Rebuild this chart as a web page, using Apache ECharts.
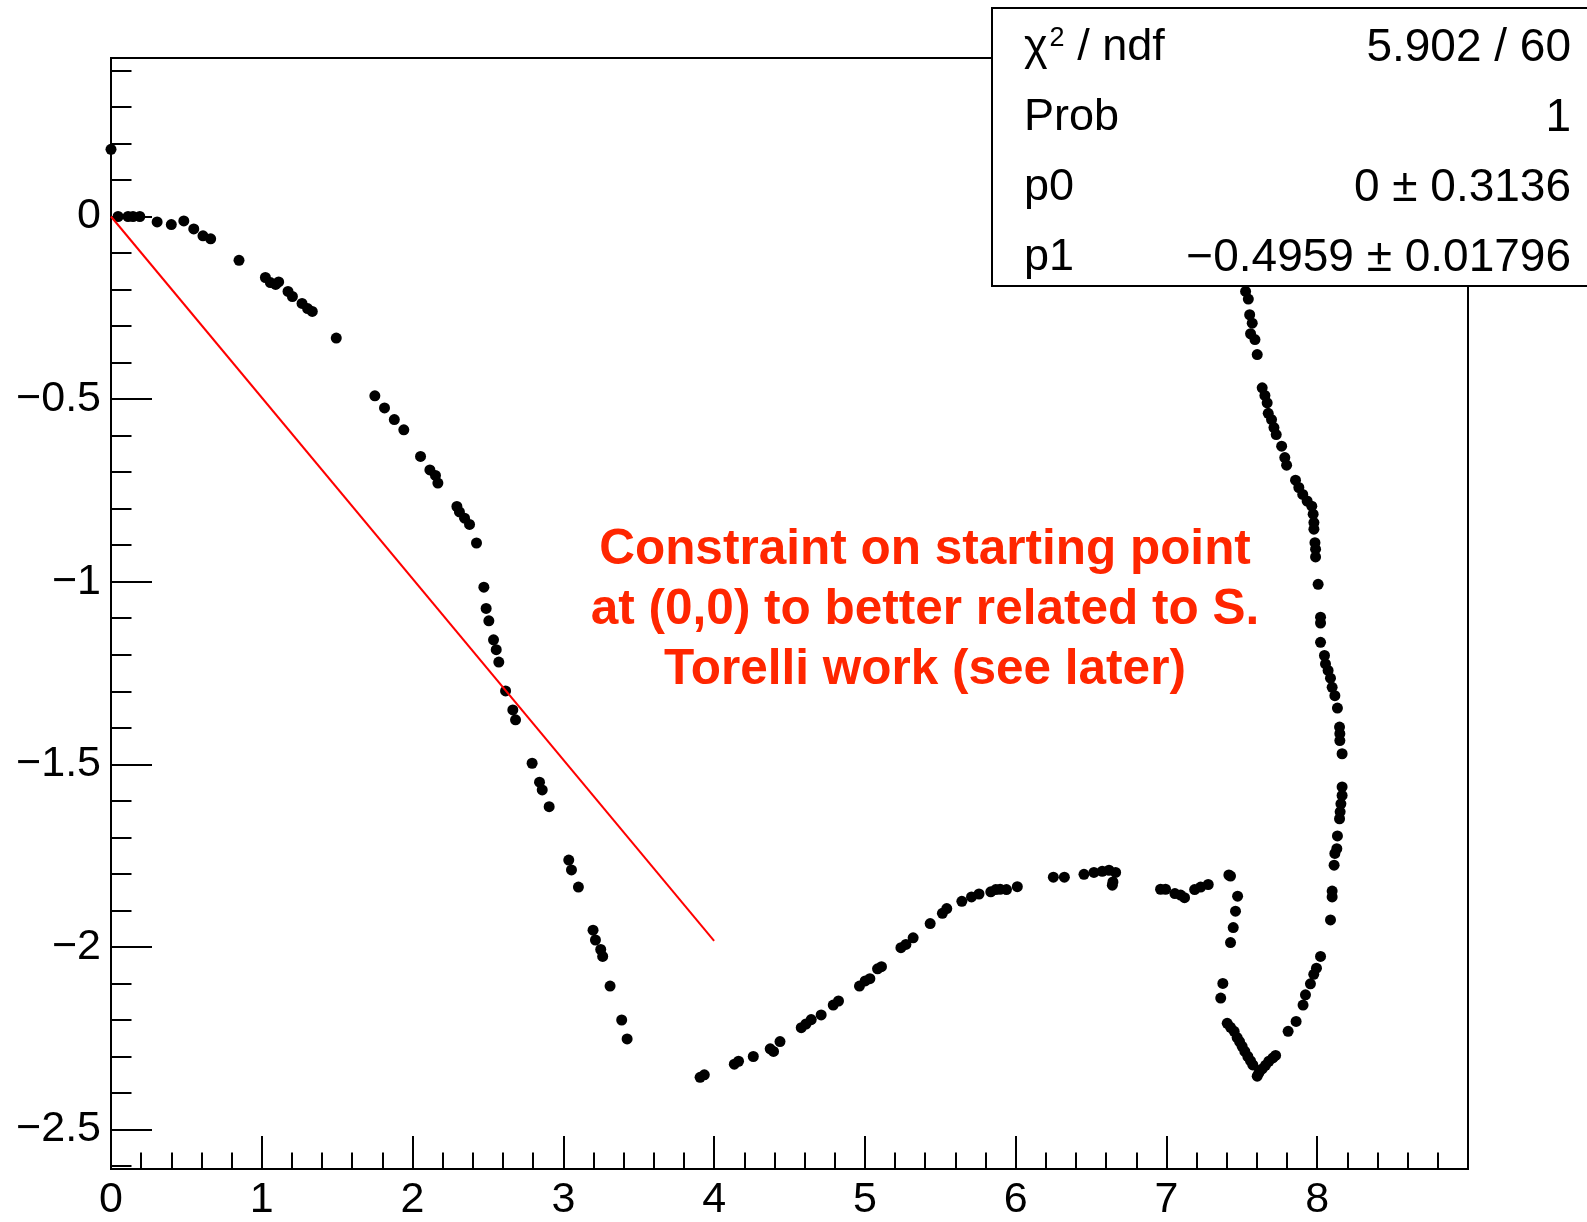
<!DOCTYPE html>
<html>
<head>
<meta charset="utf-8">
<script src="https://cdn.jsdelivr.net/npm/echarts@6/dist/echarts.min.js"></script>
<style>
  html, body { margin: 0; padding: 0; background: #ffffff; }
  #chart { width: 1587px; height: 1222px; }
</style>
</head>
<body>
<div id="chart"></div>
<script>
// Measured points (x, y)
const pointsX = [
  0.000, 0.047, 0.113, 0.146, 0.191, 0.306, 0.400, 0.483, 0.549, 0.610, 0.661, 0.849,
  1.024, 1.057, 1.092, 1.112, 1.174, 1.203, 1.267, 1.304, 1.335, 1.494,
  1.750, 1.814, 1.879, 1.942, 2.053, 2.115, 2.152, 2.168, 2.294, 2.311, 2.345, 2.378,
  2.424, 2.473, 2.488, 2.506, 2.537, 2.555, 2.572, 2.617, 2.665, 2.683, 2.793, 2.842,
  2.860, 2.906, 3.036, 3.054, 3.100, 3.197, 3.213, 3.248, 3.261, 3.310, 3.387, 3.423,
  3.907, 3.935, 4.134, 4.162, 4.260, 4.372, 4.394, 4.437, 4.578, 4.609, 4.644, 4.710,
  4.790, 4.825, 4.964, 5.002, 5.033, 5.084, 5.110, 5.239, 5.272, 5.320, 5.433, 5.514,
  5.543, 5.643, 5.707, 5.757, 5.835, 5.868, 5.897, 5.939, 6.011, 6.250, 6.323, 6.453,
  6.519, 6.574, 6.619, 6.663, 6.645, 6.641, 6.961, 6.994, 7.056, 7.094, 7.120, 7.187,
  7.227, 7.277, 7.414, 7.425, 7.472, 7.458, 7.443, 7.425, 7.374, 7.360,
  7.403, 7.425, 7.449, 7.469, 7.485, 7.502, 7.520, 7.540, 7.558, 7.573, 7.602, 7.613,
  7.635, 7.657, 7.679, 7.706, 7.724, 7.807, 7.860, 7.906, 7.922, 7.955, 7.977, 7.995,
  8.022, 8.088, 8.099, 8.099, 8.112, 8.117, 8.130, 8.134, 8.148, 8.152, 8.157, 8.165,
  8.165, 8.165, 8.150, 8.150, 8.148, 8.134, 8.117, 8.099, 8.088, 8.072, 8.055, 8.048,
  8.022, 8.022, 8.022, 8.006, 7.989, 7.989, 7.985, 7.978, 7.978, 7.973, 7.964, 7.933,
  7.904, 7.878, 7.856, 7.797, 7.785, 7.764, 7.728, 7.713, 7.697, 7.675, 7.668, 7.653,
  7.635, 7.602, 7.587, 7.558, 7.569, 7.552, 7.543, 7.525
];
const pointsY = [
  0.184, 0.000, 0.000, 0.000, 0.000, -0.015, -0.022, -0.012, -0.034, -0.053, -0.061, -0.120,
  -0.167, -0.181, -0.186, -0.179, -0.205, -0.219, -0.238, -0.252, -0.260, -0.333,
  -0.491, -0.524, -0.556, -0.584, -0.657, -0.694, -0.709, -0.730, -0.794, -0.809, -0.826, -0.843,
  -0.894, -1.015, -1.073, -1.107, -1.159, -1.186, -1.220, -1.299, -1.351, -1.378, -1.497, -1.549,
  -1.570, -1.616, -1.762, -1.789, -1.836, -1.954, -1.981, -2.007, -2.026, -2.107, -2.200, -2.252,
  -2.357, -2.350, -2.321, -2.313, -2.300, -2.279, -2.286, -2.259, -2.221, -2.211, -2.199, -2.186,
  -2.159, -2.148, -2.107, -2.093, -2.087, -2.060, -2.054, -2.002, -1.993, -1.975, -1.936, -1.908,
  -1.895, -1.875, -1.863, -1.855, -1.849, -1.843, -1.842, -1.843, -1.835, -1.809, -1.809, -1.801,
  -1.796, -1.793, -1.790, -1.796, -1.822, -1.831, -1.842, -1.842, -1.854, -1.858, -1.865, -1.843,
  -1.836, -1.829, -1.803, -1.806, -1.861, -1.902, -1.947, -1.988, -2.100, -2.140,
  -2.209, -2.220, -2.231, -2.248, -2.259, -2.272, -2.286, -2.300, -2.312, -2.323, -2.354, -2.345,
  -2.334, -2.324, -2.313, -2.304, -2.297, -2.231, -2.204, -2.159, -2.131, -2.101, -2.075, -2.058,
  -2.026, -1.926, -1.863, -1.847, -1.776, -1.744, -1.731, -1.696, -1.649, -1.630, -1.608, -1.585,
  -1.562, -1.471, -1.435, -1.416, -1.398, -1.346, -1.312, -1.289, -1.264, -1.243, -1.225, -1.202,
  -1.166, -1.113, -1.097, -1.007, -0.932, -0.911, -0.893, -0.856, -0.838, -0.815, -0.793, -0.779,
  -0.761, -0.742, -0.722, -0.681, -0.660, -0.629, -0.597, -0.578, -0.556, -0.539, -0.510, -0.490,
  -0.469, -0.378, -0.337, -0.321, -0.292, -0.269, -0.226, -0.205
];

// Linear fit result, p0 + p1 * x, drawn over its fit range
const fitP0 = 0;
const fitP1 = -0.4959;
const fitRange = [0, 4];

// Axis ranges and ticks
const xRange = [0, 9];
const yRange = [-2.608, 0.434];
const yMajorTicks = [-2.5, -2, -1.5, -1, -0.5, 0];
const yMinorTicks = [-2.6, -2.5, -2.4, -2.3, -2.2, -2.1, -2.0, -1.9, -1.8, -1.7, -1.6, -1.5,
  -1.4, -1.3, -1.2, -1.1, -1.0, -0.9, -0.8, -0.7, -0.6, -0.5, -0.4, -0.3, -0.2, -0.1,
  0.0, 0.1, 0.2, 0.3, 0.4];

// Fit statistics box
const statsLabels = ['{t|χ}{s|2}{t| / ndf}', 'Prob', 'p0', 'p1'];
const statsValues = ['5.902 / 60', '1', '0 ± 0.3136', '−0.4959 ± 0.01796'];

// Note written on the plot
const noteLines = ['Constraint on starting point', 'at (0,0) to better related to S.', 'Torelli work (see later)'];

const FONT = '"Liberation Sans", Arial, Helvetica, sans-serif';
const minus = v => String(v).replace('-', '\u2212');

const chart = echarts.init(document.getElementById('chart'), null, { renderer: 'canvas' });

const frameLeft = 111, frameRight = 1468, frameTop = 58, frameBottom = 1171;

const statsGraphics = [{
  type: 'rect', z: 100,
  shape: { x: 992, y: 8, width: 700, height: 278 },
  style: { fill: '#ffffff', stroke: '#000000', lineWidth: 2 }
}];
const rowY = [48, 118, 188, 258];
statsLabels.forEach((t, i) => {
  statsGraphics.push({
    type: 'text', z: 101, x: 1024, y: rowY[i],
    style: {
      text: t, fill: '#000', font: '45px ' + FONT,
      textAlign: 'left', textVerticalAlign: 'middle',
      rich: {
        t: { fontSize: 45, fontFamily: FONT, fill: '#000', color: '#000' },
        s: { fontSize: 27, fontFamily: FONT, verticalAlign: 'top', padding: [0, 0, 18, 2], fill: '#000', color: '#000' }
      }
    }
  });
  statsGraphics.push({
    type: 'text', z: 101, x: 1571, y: rowY[i],
    style: {
      text: statsValues[i], fill: '#000', font: '46px ' + FONT,
      textAlign: 'right', textVerticalAlign: 'middle'
    }
  });
});

const noteGraphics = noteLines.map((t, i) => ({
  type: 'text', z: 90, x: 925, y: 550 + i * 60,
  style: {
    text: t, fill: '#ff2600', font: 'bold 49.5px ' + FONT,
    textAlign: 'center', textVerticalAlign: 'middle'
  }
}));

const axisLineStyle = { color: '#000', width: 2 };

chart.setOption({
  animation: false,
  backgroundColor: '#ffffff',
  grid: {
    left: frameLeft, right: 1587 - frameRight, top: frameTop, bottom: 1222 - frameBottom,
    show: true, borderColor: '#000', borderWidth: 2, backgroundColor: 'transparent'
  },
  xAxis: {
    type: 'value', min: xRange[0], max: xRange[1], interval: 1,
    axisLine: { show: true, onZero: false, lineStyle: axisLineStyle },
    axisTick: { show: true, inside: true, length: 33, lineStyle: axisLineStyle },
    minorTick: { show: true, splitNumber: 5, length: 16.5, lineStyle: axisLineStyle },
    axisLabel: { showMaxLabel: false, fontSize: 43, fontFamily: FONT, color: '#000', margin: 10 },
    splitLine: { show: false }, minorSplitLine: { show: false }
  },
  yAxis: [{
    type: 'value', min: yRange[0], max: yRange[1], position: 'left',
    axisLine: { show: true, onZero: false, lineStyle: axisLineStyle },
    axisTick: { show: true, inside: true, length: 41, customValues: yMajorTicks, lineStyle: axisLineStyle },
    axisLabel: { customValues: yMajorTicks, formatter: v => minus(v), fontSize: 43, fontFamily: FONT, color: '#000', margin: 10 },
    splitLine: { show: false }
  }, {
    type: 'value', min: yRange[0], max: yRange[1], position: 'left',
    axisLine: { show: false },
    axisTick: { show: true, inside: true, length: 20.5, customValues: yMinorTicks, lineStyle: axisLineStyle },
    axisLabel: { show: false },
    splitLine: { show: false }
  }],
  series: [{
    type: 'scatter', name: 'data', z: 3, clip: false,
    symbol: 'circle', symbolSize: 11,
    itemStyle: { color: '#000', opacity: 1 },
    data: pointsX.map((x, i) => [x, pointsY[i]])
  }, {
    type: 'line', name: 'fit', z: 4, symbol: 'none',
    lineStyle: { color: '#ff0000', width: 2 },
    data: fitRange.map(x => [x, fitP0 + fitP1 * x])
  }],
  graphic: [...noteGraphics, ...statsGraphics]
});
</script>
</body>
</html>
